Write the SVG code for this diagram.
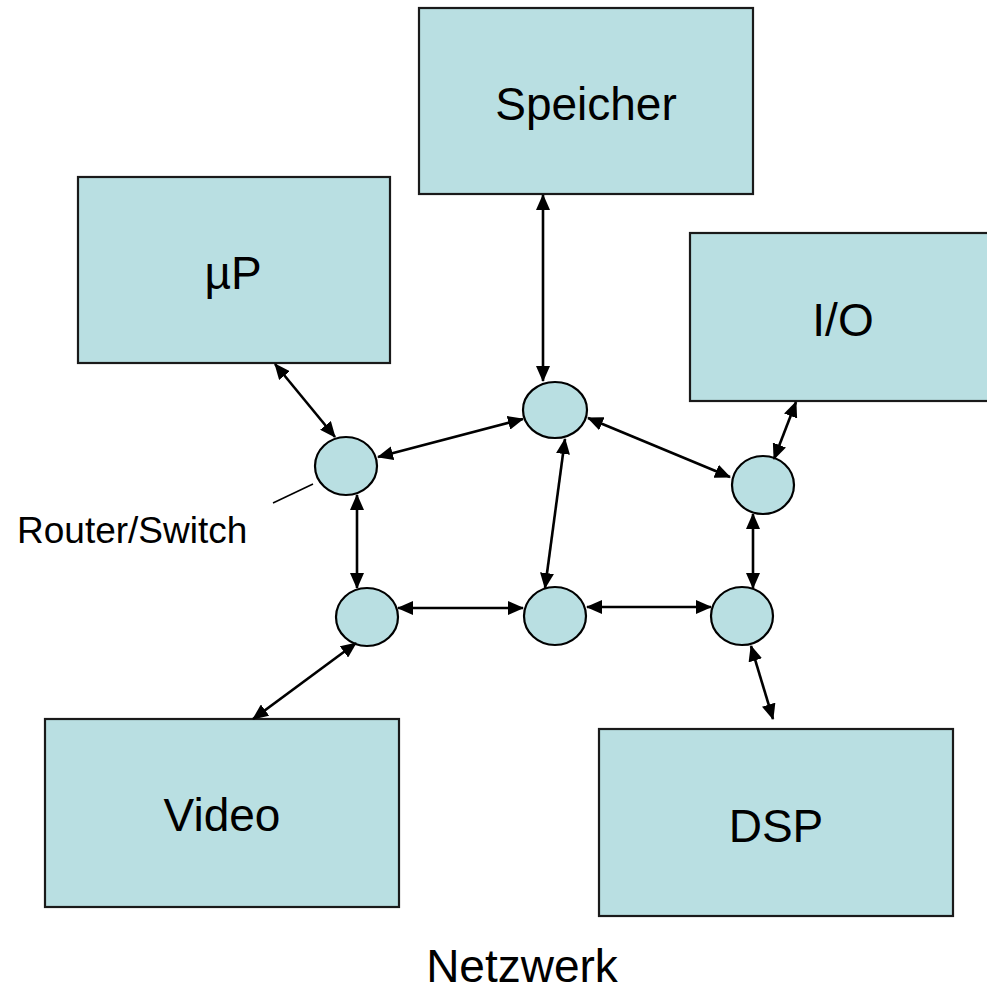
<svg xmlns="http://www.w3.org/2000/svg" width="987" height="992" viewBox="0 0 987 992">
  <style>
    .box { fill: #b9dfe2; stroke: #1a1a1a; stroke-width: 2.2; }
    .node { fill: #b9dfe2; stroke: #000; stroke-width: 2.2; }
    .lbl { font-family: "Liberation Sans", Arial, sans-serif; font-size: 46px; fill: #000; text-anchor: middle; }
    .link { stroke: #000; stroke-width: 2.6; fill: none; marker-start: url(#tip); marker-end: url(#tip); }
  </style>
  <defs>
    <marker id="tip" viewBox="0 0 16 14" refX="15" refY="7" markerWidth="16" markerHeight="14" markerUnits="userSpaceOnUse" orient="auto-start-reverse">
      <path d="M0,0 L16,7 L0,14 z" fill="#000"/>
    </marker>
  </defs>
  <rect width="987" height="992" fill="#fff"/>

  <!-- functional units -->
  <g id="speicher">
    <rect class="box" x="419" y="8" width="334" height="186"/>
    <text class="lbl" x="586" y="120">Speicher</text>
  </g>
  <g id="up">
    <rect class="box" x="78" y="177" width="312" height="186"/>
    <text class="lbl" x="233" y="289">µP</text>
  </g>
  <g id="io">
    <rect class="box" x="690" y="233" width="310" height="168"/>
    <text class="lbl" x="843" y="336">I/O</text>
  </g>
  <g id="video">
    <rect class="box" x="45" y="719" width="354" height="188"/>
    <text class="lbl" x="222" y="831">Video</text>
  </g>
  <g id="dsp">
    <rect class="box" x="599" y="729" width="354" height="187"/>
    <text class="lbl" x="776" y="842">DSP</text>
  </g>

  <!-- router/switch nodes -->
  <g id="r1"><ellipse class="node" cx="346" cy="466" rx="31" ry="29"/></g>
  <g id="r2"><ellipse class="node" cx="555" cy="410" rx="32" ry="28"/></g>
  <g id="r3"><ellipse class="node" cx="763" cy="485" rx="31" ry="29"/></g>
  <g id="r4"><ellipse class="node" cx="367" cy="617" rx="31" ry="29"/></g>
  <g id="r5"><ellipse class="node" cx="555" cy="616" rx="31" ry="29"/></g>
  <g id="r6"><ellipse class="node" cx="742" cy="616" rx="31" ry="29"/></g>

  <!-- links -->
  <g id="links">
    <line class="link" x1="275" y1="364" x2="335" y2="437"/>
    <line class="link" x1="378" y1="457" x2="523" y2="419"/>
    <line class="link" x1="357" y1="495" x2="357" y2="588"/>
    <line class="link" x1="398" y1="608" x2="523" y2="608"/>
    <line class="link" x1="587" y1="607" x2="711" y2="607"/>
    <line class="link" x1="565" y1="439" x2="545" y2="588"/>
    <line class="link" x1="543" y1="195" x2="543" y2="381"/>
    <line class="link" x1="588" y1="418" x2="730" y2="477"/>
    <line class="link" x1="796" y1="402" x2="774" y2="459"/>
    <line class="link" x1="753" y1="514" x2="753" y2="588"/>
    <line class="link" x1="751" y1="646" x2="773" y2="719"/>
    <line class="link" x1="356" y1="643" x2="253" y2="719"/>
  </g>

  <!-- annotation -->
  <g id="router-label">
    <line x1="273" y1="503" x2="313" y2="484" stroke="#000" stroke-width="1.5"/>
    <text x="17" y="543" font-family="Liberation Sans, Arial, sans-serif" font-size="37" fill="#000">Router/Switch</text>
  </g>
  <text id="caption" class="lbl" x="522" y="982">Netzwerk</text>
</svg>
